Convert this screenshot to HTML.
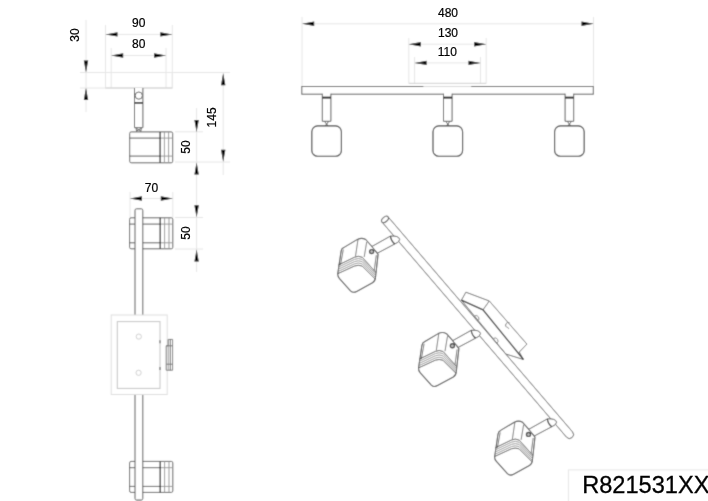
<!DOCTYPE html>
<html><head><meta charset="utf-8"><style>
html,body{margin:0;padding:0;background:#fff;width:708px;height:501px;overflow:hidden}
svg{display:block} 
text{font-family:"Liberation Sans",sans-serif}
</style></head><body>
<div id="w"><svg width="708" height="501" viewBox="0 0 708 501">
<defs><filter id="bl" x="0" y="0" width="100%" height="100%" filterUnits="userSpaceOnUse"><feConvolveMatrix order="3" kernelMatrix="0.0256 0.1088 0.0256 0.1088 0.4624 0.1088 0.0256 0.1088 0.0256" edgeMode="duplicate" preserveAlpha="true"/></filter><filter id="bt" x="0" y="0" width="100%" height="100%" filterUnits="userSpaceOnUse"><feConvolveMatrix order="3" kernelMatrix="0.0169 0.0962 0.0169 0.0962 0.5476 0.0962 0.0169 0.0962 0.0169" edgeMode="duplicate" preserveAlpha="true"/></filter></defs>
<g filter="url(#bl)"><rect width="708" height="501" fill="#fff"/>
<line x1="80" y1="72.5" x2="230" y2="72.5" stroke="#e6e6e6" stroke-width="1"/>
<line x1="80" y1="88" x2="105.5" y2="88" stroke="#e6e6e6" stroke-width="1"/>
<line x1="105.5" y1="25" x2="105.5" y2="88" stroke="#e6e6e6" stroke-width="1"/>
<line x1="172.3" y1="25" x2="172.3" y2="88" stroke="#e6e6e6" stroke-width="1"/>
<line x1="111.2" y1="48" x2="111.2" y2="88" stroke="#e6e6e6" stroke-width="1"/>
<line x1="166" y1="48" x2="166" y2="88" stroke="#e6e6e6" stroke-width="1"/>
<line x1="105.5" y1="34.4" x2="172.3" y2="34.4" stroke="#e6e6e6" stroke-width="1"/>
<polygon points="105.5,34.4 117.5,32.199999999999996 117.5,36.6" fill="#000"/>
<polygon points="172.3,34.4 160.3,32.199999999999996 160.3,36.6" fill="#000"/>
<line x1="111.2" y1="55.5" x2="166" y2="55.5" stroke="#e6e6e6" stroke-width="1"/>
<polygon points="111.2,55.5 123.2,53.3 123.2,57.7" fill="#000"/>
<polygon points="166,55.5 154,53.3 154,57.7" fill="#000"/>
<line x1="86" y1="20" x2="86" y2="112" stroke="#e6e6e6" stroke-width="1"/>
<polygon points="86,72.4 83.8,60.400000000000006 88.2,60.400000000000006" fill="#000"/>
<polygon points="86,88 83.8,100 88.2,100" fill="#000"/>
<rect x="105.5" y="72.5" width="66.8" height="15.5" fill="none" stroke="#e6e6e6" stroke-width="1"/>
<line x1="105.5" y1="88" x2="172.3" y2="88" stroke="#cfcfcf" stroke-width="1"/>
<path d="M134.5,88 V127.7 H142.9 V88" fill="#fff" stroke="#5a5a5a" stroke-width="1"/>
<circle cx="138.8" cy="95.6" r="3.6" fill="none" stroke="#5a5a5a" stroke-width="1"/>
<line x1="134.5" y1="102.9" x2="142.9" y2="102.9" stroke="#111" stroke-width="1.5"/>
<path d="M136,127.7 L136.6,131.6 M141.4,127.7 L140.8,131.6 M136.6,128.5 L140.8,131 M140.8,128.5 L136.6,131" fill="none" stroke="#555" stroke-width="0.9"/>
<rect x="129.7" y="131.9" width="43" height="30.9" rx="1.5" fill="#fff" stroke="#5a5a5a" stroke-width="1"/>
<line x1="129.6" y1="138.1" x2="160.1" y2="138.1" stroke="#5a5a5a" stroke-width="1"/>
<line x1="129.6" y1="156.1" x2="160.1" y2="156.1" stroke="#5a5a5a" stroke-width="1"/>
<line x1="160.1" y1="138.1" x2="172.7" y2="138.1" stroke="#999" stroke-width="1"/>
<line x1="160.1" y1="156.1" x2="172.7" y2="156.1" stroke="#999" stroke-width="1"/>
<line x1="160.1" y1="131.9" x2="160.1" y2="162.8" stroke="#222" stroke-width="1.2"/>
<line x1="164.4" y1="131.9" x2="164.4" y2="162.8" stroke="#999" stroke-width="1"/>
<line x1="168.6" y1="131.9" x2="168.6" y2="162.8" stroke="#999" stroke-width="1"/>
<line x1="175" y1="162" x2="230" y2="162" stroke="#e6e6e6" stroke-width="1"/>
<line x1="223.2" y1="73" x2="223.2" y2="175" stroke="#e6e6e6" stroke-width="1"/>
<polygon points="223.2,73.2 221.0,85.2 225.39999999999998,85.2" fill="#000"/>
<polygon points="223.2,161.8 221.0,149.8 225.39999999999998,149.8" fill="#000"/>
<line x1="196.6" y1="108" x2="196.6" y2="272" stroke="#e6e6e6" stroke-width="1"/>
<line x1="175" y1="131.8" x2="203" y2="131.8" stroke="#e6e6e6" stroke-width="1"/>
<polygon points="196.6,131.9 194.4,119.9 198.79999999999998,119.9" fill="#000"/>
<polygon points="196.6,162.5 194.4,174.5 198.79999999999998,174.5" fill="#000"/>
<line x1="175" y1="217.5" x2="203" y2="217.5" stroke="#e6e6e6" stroke-width="1"/>
<line x1="175" y1="249" x2="203" y2="249" stroke="#e6e6e6" stroke-width="1"/>
<polygon points="196.6,217.2 194.4,205.2 198.79999999999998,205.2" fill="#000"/>
<polygon points="196.6,249.6 194.4,261.6 198.79999999999998,261.6" fill="#000"/>
<line x1="130" y1="192" x2="130" y2="217.8" stroke="#e6e6e6" stroke-width="1"/>
<line x1="172.8" y1="192" x2="172.8" y2="217.8" stroke="#e6e6e6" stroke-width="1"/>
<line x1="130" y1="198.5" x2="172.8" y2="198.5" stroke="#e6e6e6" stroke-width="1"/>
<polygon points="130,198.5 142,196.3 142,200.7" fill="#000"/>
<polygon points="172.8,198.5 160.8,196.3 160.8,200.7" fill="#000"/>
<rect x="129.6" y="217.8" width="43.2" height="31" rx="1.5" fill="#fff" stroke="#5a5a5a" stroke-width="1"/>
<line x1="129.6" y1="224.10000000000002" x2="160.2" y2="224.10000000000002" stroke="#5a5a5a" stroke-width="1"/>
<line x1="160.2" y1="224.10000000000002" x2="172.8" y2="224.10000000000002" stroke="#999" stroke-width="1"/>
<line x1="129.6" y1="242.8" x2="160.2" y2="242.8" stroke="#5a5a5a" stroke-width="1"/>
<line x1="160.2" y1="242.8" x2="172.8" y2="242.8" stroke="#999" stroke-width="1"/>
<line x1="160.2" y1="217.8" x2="160.2" y2="248.8" stroke="#222" stroke-width="1.2"/>
<line x1="164.6" y1="217.8" x2="164.6" y2="248.8" stroke="#999" stroke-width="1"/>
<line x1="169" y1="217.8" x2="169" y2="248.8" stroke="#999" stroke-width="1"/>
<rect x="129.6" y="461.4" width="43.2" height="31" rx="1.5" fill="#fff" stroke="#5a5a5a" stroke-width="1"/>
<line x1="129.6" y1="467.7" x2="160.2" y2="467.7" stroke="#5a5a5a" stroke-width="1"/>
<line x1="160.2" y1="467.7" x2="172.8" y2="467.7" stroke="#999" stroke-width="1"/>
<line x1="129.6" y1="486.4" x2="160.2" y2="486.4" stroke="#5a5a5a" stroke-width="1"/>
<line x1="160.2" y1="486.4" x2="172.8" y2="486.4" stroke="#999" stroke-width="1"/>
<line x1="160.2" y1="461.4" x2="160.2" y2="492.4" stroke="#222" stroke-width="1.2"/>
<line x1="164.6" y1="461.4" x2="164.6" y2="492.4" stroke="#999" stroke-width="1"/>
<line x1="169" y1="461.4" x2="169" y2="492.4" stroke="#999" stroke-width="1"/>
<path d="M135,315 V210.3 Q135,208.8 136.5,208.8 H141.3 Q142.8,208.8 142.8,210.3 V315" fill="#fff" stroke="#5a5a5a" stroke-width="1"/>
<path d="M135,394.5 V498.5 Q135,500 136.5,500 H141.3 Q142.8,500 142.8,498.5 V394.5" fill="#fff" stroke="#5a5a5a" stroke-width="1"/>
<rect x="111.2" y="315" width="56" height="79.5" fill="#fff" stroke="#dedede" stroke-width="1"/>
<rect x="117.3" y="321.6" width="42.7" height="66.8" fill="none" stroke="#c4c4c4" stroke-width="1"/>
<circle cx="138.8" cy="336.6" r="2.6" fill="none" stroke="#cfcfcf" stroke-width="1"/>
<circle cx="138.6" cy="372.8" r="2.6" fill="none" stroke="#cfcfcf" stroke-width="1"/>
<line x1="160" y1="340.3" x2="160" y2="343.3" stroke="#777" stroke-width="1.3"/>
<line x1="160" y1="367" x2="160" y2="370" stroke="#777" stroke-width="1.3"/>
<path d="M168.2,339.4 H172.6 V370.2 H166.2 V345.8 H168.2 Z" fill="#fff" stroke="#777" stroke-width="1"/>
<line x1="168.2" y1="339.4" x2="168.2" y2="370.2" stroke="#999" stroke-width="1"/>
<line x1="170.3" y1="339.4" x2="170.3" y2="370.2" stroke="#666" stroke-width="1"/>
<line x1="166.2" y1="364.2" x2="172.6" y2="364.2" stroke="#777" stroke-width="1"/>
<line x1="166.2" y1="345.8" x2="172.6" y2="345.8" stroke="#777" stroke-width="1"/>
<line x1="302" y1="17" x2="302" y2="86.5" stroke="#e6e6e6" stroke-width="1"/>
<line x1="593.5" y1="17" x2="593.5" y2="86.5" stroke="#e6e6e6" stroke-width="1"/>
<line x1="302" y1="23.8" x2="593.5" y2="23.8" stroke="#e6e6e6" stroke-width="1"/>
<polygon points="302.2,23.8 314.2,21.6 314.2,26.0" fill="#000"/>
<polygon points="593.5,23.8 581.5,21.6 581.5,26.0" fill="#000"/>
<line x1="408.8" y1="38" x2="408.8" y2="83.3" stroke="#e6e6e6" stroke-width="1"/>
<line x1="486.2" y1="38" x2="486.2" y2="83.3" stroke="#e6e6e6" stroke-width="1"/>
<line x1="408.8" y1="44.2" x2="486.2" y2="44.2" stroke="#e6e6e6" stroke-width="1"/>
<polygon points="408.8,44.2 420.8,42.0 420.8,46.400000000000006" fill="#000"/>
<polygon points="486.2,44.2 474.2,42.0 474.2,46.400000000000006" fill="#000"/>
<line x1="414.6" y1="57" x2="414.6" y2="83.3" stroke="#e6e6e6" stroke-width="1"/>
<line x1="480.5" y1="57" x2="480.5" y2="83.3" stroke="#e6e6e6" stroke-width="1"/>
<line x1="414.6" y1="62.9" x2="480.5" y2="62.9" stroke="#e6e6e6" stroke-width="1"/>
<polygon points="414.6,62.9 426.6,60.699999999999996 426.6,65.1" fill="#000"/>
<polygon points="480.5,62.9 468.5,60.699999999999996 468.5,65.1" fill="#000"/>
<line x1="408.8" y1="83.3" x2="486.2" y2="83.3" stroke="#cfcfcf" stroke-width="1"/>
<rect x="301.8" y="86.5" width="291.5" height="7.7" fill="#fff" stroke="#5a5a5a" stroke-width="1"/>
<line x1="423.3" y1="86.5" x2="471.3" y2="86.5" stroke="#d8d8d8" stroke-width="1.2"/>
<rect x="322.3" y="93" width="8.6" height="28.3" fill="#fff" stroke="none"/>
<path d="M322.3,93.7 V121.3 H330.90000000000003 V93.7" fill="none" stroke="#5a5a5a" stroke-width="1"/>
<line x1="322.3" y1="97.6" x2="330.90000000000003" y2="97.6" stroke="#000" stroke-width="1.8"/>
<path d="M324.40000000000003,121.3 L328.1,125.9 M328.8,121.3 L325.1,125.9" stroke="#555" stroke-width="1"/>
<rect x="311.8" y="125.9" width="29.6" height="30.3" rx="5.8" fill="#fff" stroke="#3a3a3a" stroke-width="1.15"/>
<rect x="443.5" y="93" width="8.6" height="28.3" fill="#fff" stroke="none"/>
<path d="M443.5,93.7 V121.3 H452.1 V93.7" fill="none" stroke="#5a5a5a" stroke-width="1"/>
<line x1="443.5" y1="97.6" x2="452.1" y2="97.6" stroke="#000" stroke-width="1.8"/>
<path d="M445.6,121.3 L449.3,125.9 M450.0,121.3 L446.3,125.9" stroke="#555" stroke-width="1"/>
<rect x="433.0" y="125.9" width="29.6" height="30.3" rx="5.8" fill="#fff" stroke="#3a3a3a" stroke-width="1.15"/>
<rect x="565.1" y="93" width="8.6" height="28.3" fill="#fff" stroke="none"/>
<path d="M565.1,93.7 V121.3 H573.6999999999999 V93.7" fill="none" stroke="#5a5a5a" stroke-width="1"/>
<line x1="565.1" y1="97.6" x2="573.6999999999999" y2="97.6" stroke="#000" stroke-width="1.8"/>
<path d="M567.1999999999999,121.3 L570.9,125.9 M571.6,121.3 L567.9,125.9" stroke="#555" stroke-width="1"/>
<rect x="554.6" y="125.9" width="29.6" height="30.3" rx="5.8" fill="#fff" stroke="#3a3a3a" stroke-width="1.15"/>
<path d="M461.40,300.20 L465.90,292.20 L489.30,301.00 L526.90,344.10 L519.30,352.00 L523.40,359.50 L505.80,354.00 Z" fill="#fff" stroke="#6a6a6a" stroke-width="1" stroke-linejoin="round"/>
<path d="M489.30,301.00 L483.00,309.80" stroke="#6a6a6a" stroke-width="1"/>
<path d="M461.40,300.20 L483.00,309.80 L523.40,359.50" fill="none" stroke="#333" stroke-width="1.3"/>
<path d="M474.5,316 A2.6,2.6 0 1 1 477.5,321" fill="none" stroke="#888" stroke-width="1"/>
<path d="M493.5,338.4 A2.6,2.6 0 1 1 496.6,343.4" fill="none" stroke="#888" stroke-width="1"/>
<path d="M509.5,322.8 A2.4,2.4 0 1 0 507,327.5 A1.2,1.2 0 0 1 508.5,329" fill="none" stroke="#777" stroke-width="1"/>
<path d="M381.96,222.00 L566.46,437.10 A4.0,4.0 0 0 0 572.54,431.90 L388.04,216.80 Z" fill="#fff" stroke="#5a5a5a" stroke-width="1"/>
<ellipse cx="385" cy="219.4" rx="2.4" ry="4.0" transform="rotate(49.4 385 219.4)" fill="#fff" stroke="#5a5a5a" stroke-width="1.1"/>
<path d="M357.40,239.40 Q361.70,237.20 365.70,239.50 L371.90,246.50 L378.10,254.40 L375.50,277.40 Q375.20,281.20 372.50,282.70 L356.70,291.40 Q353.20,293.40 350.50,290.90 L339.50,278.60 Q337.40,276.40 337.80,273.40 L341.10,251.20 Q341.50,248.60 343.70,247.60 Z" fill="#fff" stroke="#4a4a4a" stroke-width="1.1" stroke-linejoin="round"/><path d="M358.00,239.40 L355.50,256.20 M366.70,242.00 L364.20,257.00 M343.30,249.60 L340.50,264.90 M376.30,255.20 L374.20,270.40" fill="none" stroke="#6a6a6a" stroke-width="0.9"/><path d="M338.40,265.00 L354.50,257.20 Q358.30,255.30 362.30,257.30 L375.80,272.40" fill="none" stroke="#3c3c3c" stroke-width="0.85"/><path d="M338.25,267.18 L354.50,259.40 Q358.30,257.62 362.25,259.48 L375.57,274.00" fill="none" stroke="#8a8a8a" stroke-width="0.85"/><path d="M338.10,269.35 L354.50,261.60 Q358.30,259.95 362.20,261.65 L375.35,275.60" fill="none" stroke="#8a8a8a" stroke-width="0.85"/><path d="M337.95,271.52 L354.50,263.80 Q358.30,262.27 362.15,263.82 L375.12,277.20" fill="none" stroke="#8a8a8a" stroke-width="0.85"/><path d="M337.80,273.70 L354.50,266.00 Q358.30,264.60 362.10,266.00 L374.90,278.80" fill="none" stroke="#3c3c3c" stroke-width="0.85"/><path d="M371.90,246.50 L390.40,236.10 Q398.70,235.40 399.70,239.40 Q399.20,242.40 394.90,243.90 L377.60,253.10 Z" fill="#fff" stroke="#5a5a5a" stroke-width="1"/><path d="M390.40,236.10 Q391.20,241.40 394.90,243.90" fill="none" stroke="#333" stroke-width="1.2"/><circle cx="371.60" cy="251.60" r="2.1" fill="#bbb" stroke="#333" stroke-width="1.2"/>
<path d="M438.20,333.60 Q442.50,331.40 446.50,333.70 L452.70,340.70 L458.90,348.60 L456.30,371.60 Q456.00,375.40 453.30,376.90 L437.50,385.60 Q434.00,387.60 431.30,385.10 L420.30,372.80 Q418.20,370.60 418.60,367.60 L421.90,345.40 Q422.30,342.80 424.50,341.80 Z" fill="#fff" stroke="#4a4a4a" stroke-width="1.1" stroke-linejoin="round"/><path d="M438.80,333.60 L436.30,350.40 M447.50,336.20 L445.00,351.20 M424.10,343.80 L421.30,359.10 M457.10,349.40 L455.00,364.60" fill="none" stroke="#6a6a6a" stroke-width="0.9"/><path d="M419.20,359.20 L435.30,351.40 Q439.10,349.50 443.10,351.50 L456.60,366.60" fill="none" stroke="#3c3c3c" stroke-width="0.85"/><path d="M419.05,361.38 L435.30,353.60 Q439.10,351.83 443.05,353.68 L456.38,368.20" fill="none" stroke="#8a8a8a" stroke-width="0.85"/><path d="M418.90,363.55 L435.30,355.80 Q439.10,354.15 443.00,355.85 L456.15,369.80" fill="none" stroke="#8a8a8a" stroke-width="0.85"/><path d="M418.75,365.73 L435.30,358.00 Q439.10,356.48 442.95,358.03 L455.93,371.40" fill="none" stroke="#8a8a8a" stroke-width="0.85"/><path d="M418.60,367.90 L435.30,360.20 Q439.10,358.80 442.90,360.20 L455.70,373.00" fill="none" stroke="#3c3c3c" stroke-width="0.85"/><path d="M452.70,340.70 L471.20,330.30 Q479.50,329.60 480.50,333.60 Q480.00,336.60 475.70,338.10 L458.40,347.30 Z" fill="#fff" stroke="#5a5a5a" stroke-width="1"/><path d="M471.20,330.30 Q472.00,335.60 475.70,338.10" fill="none" stroke="#333" stroke-width="1.2"/><circle cx="452.40" cy="345.80" r="2.1" fill="#bbb" stroke="#333" stroke-width="1.2"/>
<path d="M514.30,422.20 Q518.60,420.00 522.60,422.30 L528.80,429.30 L535.00,437.20 L532.40,460.20 Q532.10,464.00 529.40,465.50 L513.60,474.20 Q510.10,476.20 507.40,473.70 L496.40,461.40 Q494.30,459.20 494.70,456.20 L498.00,434.00 Q498.40,431.40 500.60,430.40 Z" fill="#fff" stroke="#4a4a4a" stroke-width="1.1" stroke-linejoin="round"/><path d="M514.90,422.20 L512.40,439.00 M523.60,424.80 L521.10,439.80 M500.20,432.40 L497.40,447.70 M533.20,438.00 L531.10,453.20" fill="none" stroke="#6a6a6a" stroke-width="0.9"/><path d="M495.30,447.80 L511.40,440.00 Q515.20,438.10 519.20,440.10 L532.70,455.20" fill="none" stroke="#3c3c3c" stroke-width="0.85"/><path d="M495.15,449.97 L511.40,442.20 Q515.20,440.43 519.15,442.27 L532.48,456.80" fill="none" stroke="#8a8a8a" stroke-width="0.85"/><path d="M495.00,452.15 L511.40,444.40 Q515.20,442.75 519.10,444.45 L532.25,458.40" fill="none" stroke="#8a8a8a" stroke-width="0.85"/><path d="M494.85,454.32 L511.40,446.60 Q515.20,445.07 519.05,446.62 L532.02,460.00" fill="none" stroke="#8a8a8a" stroke-width="0.85"/><path d="M494.70,456.50 L511.40,448.80 Q515.20,447.40 519.00,448.80 L531.80,461.60" fill="none" stroke="#3c3c3c" stroke-width="0.85"/><path d="M528.80,429.30 L547.30,418.90 Q555.60,418.20 556.60,422.20 Q556.10,425.20 551.80,426.70 L534.50,435.90 Z" fill="#fff" stroke="#5a5a5a" stroke-width="1"/><path d="M547.30,418.90 Q548.10,424.20 551.80,426.70" fill="none" stroke="#333" stroke-width="1.2"/><circle cx="528.50" cy="434.40" r="2.1" fill="#bbb" stroke="#333" stroke-width="1.2"/>
<rect x="568.4" y="469.9" width="160" height="60" fill="#fff" stroke="#e6e6e6" stroke-width="1"/>
</g>
<g filter="url(#bt)"><text x="138.8" y="27.10" text-anchor="middle" font-size="12" fill="#000" stroke="#000" stroke-width="0.2">90</text>
<text x="138.8" y="48.30" text-anchor="middle" font-size="12" fill="#000" stroke="#000" stroke-width="0.2">80</text>
<text transform="translate(74.4,35) rotate(-90)" x="0" y="4.30" text-anchor="middle" font-size="12" fill="#000" stroke="#000" stroke-width="0.2">30</text>
<text transform="translate(211.8,117.4) rotate(-90)" x="0" y="4.30" text-anchor="middle" font-size="12" fill="#000" stroke="#000" stroke-width="0.2">145</text>
<text transform="translate(185.3,147) rotate(-90)" x="0" y="4.30" text-anchor="middle" font-size="12" fill="#000" stroke="#000" stroke-width="0.2">50</text>
<text transform="translate(185.9,233.1) rotate(-90)" x="0" y="4.30" text-anchor="middle" font-size="12" fill="#000" stroke="#000" stroke-width="0.2">50</text>
<text x="151.5" y="191.70" text-anchor="middle" font-size="12" fill="#000" stroke="#000" stroke-width="0.2">70</text>
<text x="448" y="17.00" text-anchor="middle" font-size="12" fill="#000" stroke="#000" stroke-width="0.2">480</text>
<text x="448" y="36.90" text-anchor="middle" font-size="12" fill="#000" stroke="#000" stroke-width="0.2">130</text>
<text x="447.4" y="55.90" text-anchor="middle" font-size="12" fill="#000" stroke="#000" stroke-width="0.2">110</text>
<text x="582.2" y="493.3" font-size="23.6" fill="#000" stroke="#000" stroke-width="0.3">R821531XX</text></g>
</svg></div>
</body></html>
